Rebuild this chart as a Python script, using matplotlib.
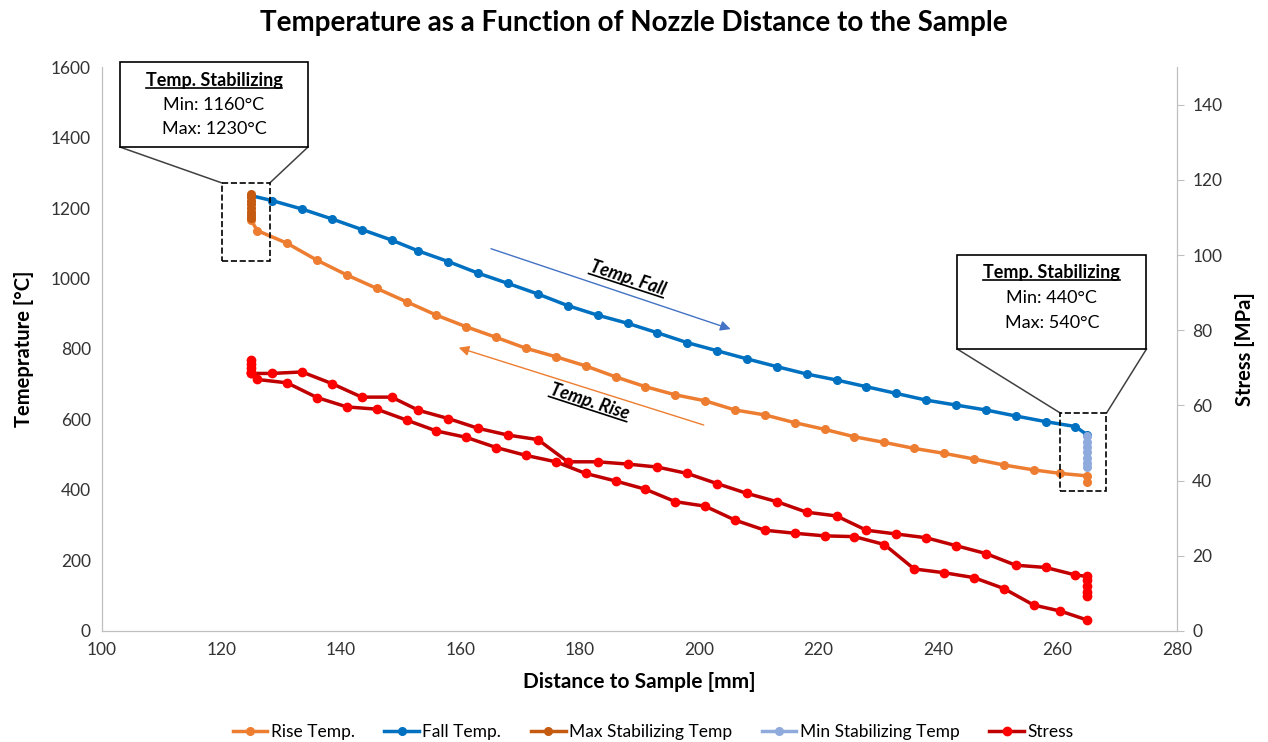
import math
import matplotlib
matplotlib.use("Agg")
import matplotlib.pyplot as plt
from matplotlib.patches import Rectangle
from matplotlib.lines import Line2D
from matplotlib.transforms import IdentityTransform

plt.rcParams['font.family'] = ['Lato', 'DejaVu Sans']

# data
fall_x = [125, 128.5, 133.5, 138.5, 143.5, 148.5, 153, 158, 163, 168, 173, 178, 183, 188, 193,
          198, 203, 208, 213, 218, 223, 228, 233, 238, 243, 248, 253, 258, 263, 265]
fall_temp = [1235, 1221, 1197, 1169, 1139, 1109, 1078, 1048, 1015, 986, 956, 923, 896, 873, 846,
             818, 795, 772, 750, 729, 712, 693, 674, 655, 641, 627, 610, 594, 580, 556]

rise_x = [125, 126, 131, 136, 141, 146, 151, 156, 161, 166, 171, 176, 181, 186, 191, 196,
          201, 206, 211, 216, 221, 226, 231, 236, 241, 246, 251, 256, 260.5, 265, 265]
rise_temp = [1165, 1136, 1100, 1052, 1010, 972, 934, 896, 863, 833, 802, 778, 752, 721, 693, 670,
             653, 627, 613, 591, 572, 551, 535, 518, 504, 488, 471, 457, 447, 440, 424]

max_stab_x = [125, 125, 125, 125, 125, 125, 125, 125]
max_stab_temp = [1240, 1230, 1220, 1210, 1200, 1190, 1180, 1172]
min_stab_x = [265, 265, 265, 265, 265, 265, 265]
min_stab_temp = [552, 537, 522, 507, 492, 477, 464]

# stress measured while falling (upper loop) and rising (lower loop)
stress_fall_x = [125, 125, 125, 125, 125, 128.5, 133.5, 138.5, 143.5, 148.5, 153, 158, 163, 168, 173,
                 178, 183, 188, 193, 198, 203, 208, 213, 218, 223, 228, 233, 238, 243, 248,
                 253, 258, 263, 265, 265, 265, 265, 265]
stress_fall = [72, 71, 70, 69, 68.5, 68.5, 68.9, 65.8, 62.2, 62.2, 58.7, 56.5, 53.9, 52.1, 50.9,
               45.0, 45.0, 44.4, 43.6, 41.9, 39.2, 36.6, 34.4, 31.6, 30.6, 26.8, 25.8, 24.8, 22.7, 20.6,
               17.5, 16.9, 14.9, 14.5, 13.5, 12, 10.5, 9.2]
stress_rise_x = [125, 126, 131, 136, 141, 146, 151, 156, 161, 166, 171, 176, 181, 186, 191, 196,
                 201, 206, 211, 216, 221, 226, 231, 236, 241, 246, 251, 256, 260.5, 265]
stress_rise = [68.5, 66.9, 66.0, 62.1, 59.6, 59.0, 56.1, 53.2, 51.5, 48.8, 46.7, 45.0, 41.9, 39.9, 37.7, 34.4,
               33.2, 29.5, 26.8, 26.0, 25.3, 25.1, 23.0, 16.5, 15.5, 14.2, 11.3, 6.9, 5.3, 2.9]

orange = "#ED7D31"
blue = "#0070C0"
dark_orange = "#C55A11"
light_blue = "#8FAADC"
grey = "#BFBFBF"

fig = plt.figure(figsize=(12.68, 7.42), dpi=100)
ax = fig.add_axes([0.0804, 0.1496, 0.8478, 0.7601])
ax2 = ax.twinx()

ax.plot(rise_x, rise_temp, color=orange, lw=2.5, marker='o', ms=5.5, label="Rise Temp.")
ax.plot(fall_x, fall_temp, color=blue, lw=2.5, marker='o', ms=5.5, label="Fall Temp.")
ax.plot(max_stab_x, max_stab_temp, color=dark_orange, lw=2.5, marker='o', ms=5.5, label="Max Stabilizing Temp")
ax.plot(min_stab_x, min_stab_temp, color=light_blue, lw=2.5, marker='o', ms=5.5, label="Min Stabilizing Temp")
ax2.plot(stress_fall_x, stress_fall, color="#C00000", lw=2.5, marker='o', ms=6,
         mfc="#FF0000", mec="#FF0000", label="Stress")
ax2.plot(stress_rise_x, stress_rise, color="#C00000", lw=2.5, marker='o', ms=6,
         mfc="#FF0000", mec="#FF0000")

ax.set_xlim(100, 280)
ax.set_ylim(0, 1600)
ax2.set_ylim(0, 150)
ax.set_xticks(range(100, 281, 20))
ax.set_yticks(range(0, 1601, 200))
ax2.set_yticks(range(0, 141, 20))

for a in (ax, ax2):
    for s in a.spines.values():
        s.set_color(grey)
    a.spines['top'].set_visible(False)
ax.tick_params(axis='both', length=0, labelsize=12.5, labelcolor="#333333", pad=8)
ax2.tick_params(axis='y', length=5, color=grey, labelsize=12.5, labelcolor="#333333", pad=6)

ax.set_xlabel("Distance to Sample [mm]", fontsize=15, fontweight='bold', labelpad=10)
ax.set_ylabel("Temeprature [°C]", fontsize=14.5, fontweight='bold', labelpad=12)
ax2.set_ylabel("Stress [MPa]", fontsize=14.5, fontweight='bold', labelpad=9)
fig.suptitle("Temperature as a Function of Nozzle Distance to the Sample",
             fontsize=20, fontweight='bold', y=0.986)

# dashed zoom boxes around the stabilizing points
ax.add_patch(Rectangle((120.1, 1050), 8.0, 221, fill=False, ls='--', lw=1.2, ec='black', zorder=5))
ax.add_patch(Rectangle((260.5, 397), 7.7, 221, fill=False, ls='--', lw=1.2, ec='black', zorder=5))

# callouts
ax.add_patch(Rectangle((103.0, 1373), 31.5, 241, fill=True, fc='white', ec='black', lw=1.2,
                       clip_on=False, zorder=6))
ax.plot([103.0, 120.1], [1373, 1271], color='#404040', lw=1.1, clip_on=False)
ax.plot([134.5, 128.1], [1373, 1271], color='#404040', lw=1.1, clip_on=False)
ax.text(118.75, 1492, "Min: 1160°C", ha='center', va='center', fontsize=13, zorder=7)
ax.text(118.75, 1424, "Max: 1230°C", ha='center', va='center', fontsize=13, zorder=7)

ax.add_patch(Rectangle((243.2, 800), 31.7, 267, fill=True, fc='white', ec='black', lw=1.2,
                       clip_on=False, zorder=6))
ax.plot([243.2, 260.5], [800, 618], color='#404040', lw=1.1, clip_on=False)
ax.plot([274.9, 268.2], [800, 618], color='#404040', lw=1.1, clip_on=False)
ax.text(259.05, 945, "Min: 440°C", ha='center', va='center', fontsize=13, zorder=7)
ax.text(259.05, 874, "Max: 540°C", ha='center', va='center', fontsize=13, zorder=7)

# direction arrows
ax.annotate("", xy=(205.7, 854), xytext=(164.7, 1087),
            arrowprops=dict(arrowstyle='-|>', color="#4472C4", lw=1, mutation_scale=15))
ax.annotate("", xy=(159.3, 806), xytext=(201.2, 582),
            arrowprops=dict(arrowstyle='-|>', color=orange, lw=1, mutation_scale=15))

fig.canvas.draw()
renderer = fig.canvas.get_renderer()


def underlined(x, y, s, rot=0, **kw):
    t = ax.text(x, y, s, ha='center', va='center', fontweight='bold', fontsize=13, zorder=7, **kw)
    bb = t.get_window_extent(renderer)
    w, h = bb.width, bb.height
    t.set_rotation(rot)
    t.set_rotation_mode('anchor')
    cx, cy = ax.transData.transform((x, y))
    a = math.radians(rot)
    dx, dy = math.cos(a), math.sin(a)
    nx, ny = math.sin(a), -math.cos(a)
    off = h / 2 - 1
    p1 = (cx - w / 2 * dx + off * nx, cy - w / 2 * dy + off * ny)
    p2 = (cx + w / 2 * dx + off * nx, cy + w / 2 * dy + off * ny)
    fig.add_artist(Line2D([p1[0], p2[0]], [p1[1], p2[1]], color='black', lw=1.2,
                          transform=IdentityTransform()))


underlined(118.75, 1563, "Temp. Stabilizing")
underlined(259.05, 1016, "Temp. Stabilizing")
underlined(188.1, 1000, "Temp. Fall", rot=-18, style='italic')
underlined(181.7, 650, "Temp. Rise", rot=-18, style='italic')

h1, l1 = ax.get_legend_handles_labels()
h2, l2 = ax2.get_legend_handles_labels()
fig.legend(h1 + h2, l1 + l2, loc='center', bbox_to_anchor=(0.515, 0.014), ncol=5,
           frameon=False, fontsize=12.5, handlelength=2.0, columnspacing=1.7, handletextpad=0.2)

fig.savefig("out.png", dpi=100)
